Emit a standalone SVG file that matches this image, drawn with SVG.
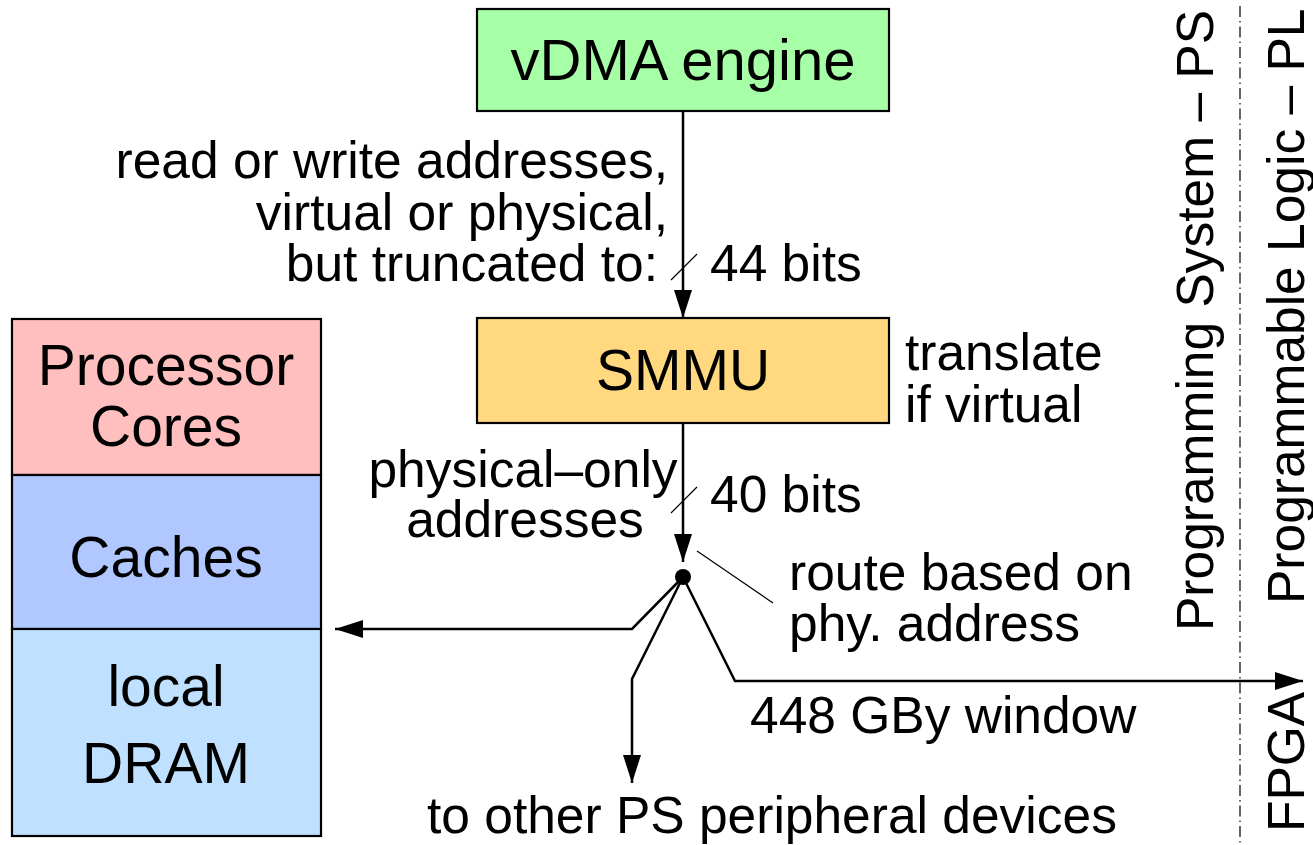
<svg xmlns="http://www.w3.org/2000/svg" width="1313" height="845" viewBox="0 0 1313 845">
  <style>
    .box { stroke: #000; stroke-width: 2.2; }
    .big { font-family: "Liberation Sans", Arial, sans-serif; font-size: 57px; fill: #000; }
    .lbl { font-family: "Liberation Sans", Arial, sans-serif; font-size: 51.5px; fill: #000; }
    .wire { fill: none; stroke: #000; stroke-width: 2.5; }
    .thin { fill: none; stroke: #000; stroke-width: 1.2; }
    .mid { text-anchor: middle; }
    .end { text-anchor: end; }
  </style>
  <defs>
    <marker id="arrow" markerUnits="userSpaceOnUse" markerWidth="30" markerHeight="20" refX="28" refY="9" orient="auto">
      <path d="M0,0 L28,9 L0,18 Z" fill="#000"/>
    </marker>
  </defs>

  <rect width="1313" height="845" fill="#fff"/>

  <!-- PS / PL boundary -->
  <line x1="1240" y1="6" x2="1240" y2="845" stroke="#000" stroke-width="1.2" stroke-dasharray="11 4 1.5 4"/>

  <g id="vdma">
    <rect class="box" x="477" y="9" width="412" height="102" fill="#a6ffa6"/>
    <text class="big mid" x="683" y="80" style="font-size:58px">vDMA engine</text>
  </g>

  <g id="smmu">
    <rect class="box" x="477" y="318" width="412" height="105" fill="#ffd880"/>
    <text class="big mid" x="683" y="390">SMMU</text>
  </g>

  <g id="cores">
    <rect class="box" x="12" y="319" width="309" height="156" fill="#ffbfbf"/>
    <text class="big mid" x="166" y="385">Processor</text>
    <text class="big mid" x="166" y="446">Cores</text>
  </g>

  <g id="caches">
    <rect class="box" x="12" y="475" width="309" height="154" fill="#b0c8ff"/>
    <text class="big mid" x="166" y="577">Caches</text>
  </g>

  <g id="dram">
    <rect class="box" x="12" y="629" width="309" height="207" fill="#bfe1ff"/>
    <text class="big mid" x="166" y="706">local</text>
    <text class="big mid" x="166" y="783">DRAM</text>
  </g>

  <g id="connectors">
    <line class="wire" x1="683" y1="111" x2="683" y2="318" marker-end="url(#arrow)"/>
    <line class="thin" x1="671" y1="280" x2="697" y2="254"/>
    <line class="wire" x1="683" y1="423" x2="683" y2="562" marker-end="url(#arrow)"/>
    <line class="thin" x1="671" y1="513" x2="697" y2="487"/>
    <circle cx="683" cy="577" r="8" fill="#000"/>
    <line class="thin" x1="697" y1="551" x2="773" y2="603"/>
    <polyline class="wire" points="683,577 632,629 335,629" marker-end="url(#arrow)"/>
    <polyline class="wire" points="683,577 632,679 632,783" marker-end="url(#arrow)"/>
    <polyline class="wire" points="683,577 735,681 1303,681" marker-end="url(#arrow)"/>
  </g>

  <g id="labels">
    <text class="lbl end" x="668" y="178">read or write addresses,</text>
    <text class="lbl end" x="668" y="230">virtual or physical,</text>
    <text class="lbl end" x="658" y="281">but truncated to:</text>
    <text class="lbl" x="710" y="281">44 bits</text>
    <text class="lbl" x="905" y="370">translate</text>
    <text class="lbl" x="905" y="422">if virtual</text>
    <text class="lbl mid" x="523" y="487">physical–only</text>
    <text class="lbl mid" x="525" y="537">addresses</text>
    <text class="lbl" x="710" y="512">40 bits</text>
    <text class="lbl" x="789" y="590">route based on</text>
    <text class="lbl" x="789" y="641">phy. address</text>
    <text class="lbl" x="750" y="733">448 GBy window</text>
    <text class="lbl" x="427" y="833">to other PS peripheral devices</text>
    <text class="lbl" transform="translate(1213,631) rotate(-90)">Programming System – PS</text>
    <text class="lbl" transform="translate(1304,604) rotate(-90)">Programmable Logic – PL</text>
    <text class="lbl" transform="translate(1304,832) rotate(-90)">FPGA</text>
  </g>
</svg>
